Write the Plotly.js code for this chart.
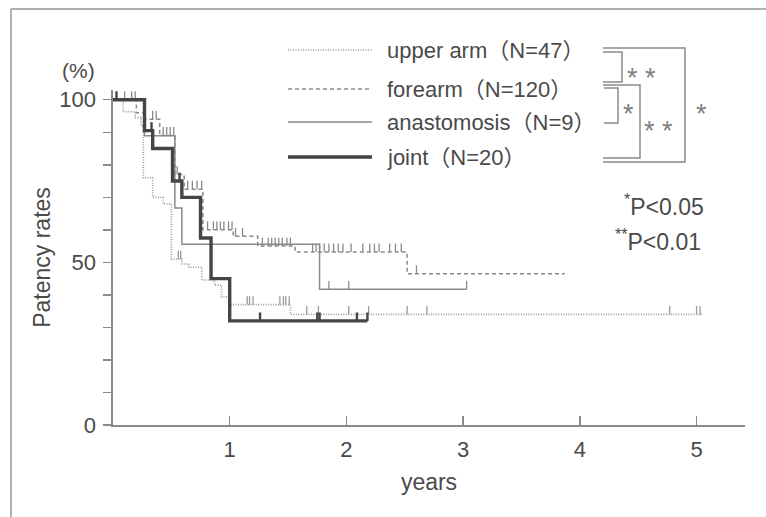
<!DOCTYPE html>
<html>
<head>
<meta charset="utf-8">
<script src="https://cdn.plot.ly/plotly-3.0.1.min.js"></script>
<style>html,body{margin:0;padding:0;background:#fff}#chart{width:766px;height:517px}</style>
</head>
<body>
<div id="chart"></div>
<script>
// ---- data (years, patency %) ----
const upperArmT = [0, 0.086, 0.19, 0.24, 0.26, 0.34, 0.43, 0.50, 0.59, 0.65, 0.76, 0.87, 0.93, 1.00, 1.52, 5.05];
const upperArmP = [100, 96.3, 94.5, 92, 76, 70, 68, 51, 49.5, 48.5, 44.6, 43, 39.4, 37, 34, 34];
const upperArmCens = [0.56, 0.58, 1.15, 1.17, 1.20, 1.43, 1.46, 1.48, 1.51, 1.66, 1.76, 2.02, 2.19, 2.52, 2.69, 4.77, 5.0, 5.03];

const forearmT = [0, 0.2, 0.27, 0.40, 0.53, 0.61, 0.77, 1.03, 1.24, 1.56, 2.52, 3.87];
const forearmP = [100, 96, 94, 89, 77, 72.5, 60, 58, 55, 53.2, 46.5, 46.5];
const forearmCens = [0.1, 0.16, 0.19, 0.34, 0.37, 0.43, 0.46, 0.49, 0.52, 0.55, 0.64, 0.68, 0.72, 0.76,
  0.81, 0.86, 0.89, 0.92, 0.95, 0.99, 1.02, 1.05, 1.11, 1.28, 1.33, 1.36, 1.39, 1.42, 1.45, 1.49, 1.52,
  1.71, 1.74, 1.77, 1.81, 1.85, 1.89, 1.93, 1.97, 2.04, 2.14, 2.20, 2.24, 2.28, 2.37, 2.42, 2.47, 2.60];

const anastT = [0, 0.27, 0.53, 0.59, 1.77, 3.03];
const anastP = [100, 88.9, 66.7, 55.6, 41.7, 41.7];
const anastCens = [1.85, 2.02, 3.03];

const jointT = [0, 0.27, 0.34, 0.51, 0.59, 0.75, 0.84, 1.00, 2.18];
const jointP = [100, 90.5, 85, 75, 70, 57.5, 45, 32, 32];
const jointCens = [0.03, 0.33, 0.57, 1.26, 1.75, 1.77, 2.09, 2.18];

const yTickVals = [0, 50, 100];
const yMinorStep = 10;
const xTickVals = [1,2,3,4,5];

const legendNames = ['upper arm（N=47）','forearm（N=120）','anastomosis（N=9）','joint（N=20）'];

// ---- helpers ----
const W = 766, H = 517, ML = 113, MR = 21, MT = 90, MB = 92;
const PW = W - ML - MR, PH = H - MT - MB;
const fx = px => (px - ML) / PW;
const fy = py => (H - MB - py) / PH;
const FONT = 'Liberation Sans, Arial, Noto Sans CJK JP, sans-serif';
const TXT = '#4a4a4a';
const AX = '#8a8a8a';

function levelAt(ts, ps, t) {
  let v = ps[0];
  for (let i = 0; i < ts.length; i++) if (ts[i] <= t) v = ps[i];
  return v;
}
function censTrace(ts, ps, cens, color, width) {
  const x = [], y = [];
  const h = 2.6;
  cens.forEach(c => { const v = levelAt(ts, ps, c); x.push(c, c, null); y.push(v, v + h, null); });
  return {x, y, type:'scatter', mode:'lines', line:{color, width}, hoverinfo:'skip', showlegend:false};
}

const styles = [
  {color:'#9a9a9a', width:1.6, dash:'1px,1.5px'},
  {color:'#8a8a8a', width:1.5, dash:'4px,3px'},
  {color:'#8a8a8a', width:1.5, dash:'solid'},
  {color:'#454545', width:3.4, dash:'solid'}
];
const series = [
  [upperArmT, upperArmP, upperArmCens],
  [forearmT, forearmP, forearmCens],
  [anastT, anastP, anastCens],
  [jointT, jointP, jointCens]
];

const traces = [];
series.forEach((s, i) => {
  const st = styles[i];
  traces.push({x:s[0], y:s[1], type:'scatter', mode:'lines', line:{shape:'hv', color:st.color, width:st.width, dash:st.dash}, name:legendNames[i], showlegend:false});
  traces.push(censTrace(s[0], s[1], s[2], st.color, i === 3 ? 2.4 : 1.3));
});

// ---- legend (drawn as shapes + annotations) ----
const legendY = [50, 89, 122, 157];
const shapes = [];
const annotations = [];
legendY.forEach((py, i) => {
  const st = styles[i];
  shapes.push({type:'line', xref:'paper', yref:'paper', x0:fx(288), x1:fx(372), y0:fy(py), y1:fy(py),
    line:{color:st.color, width:st.width, dash:st.dash}});
  annotations.push({xref:'paper', yref:'paper', x:fx(385), y:fy(py), xanchor:'left', yanchor:'middle',
    text:legendNames[i], showarrow:false, font:{family:FONT, size:22, color:TXT}});
});

// significance brackets
function bracket(x0, x1, y0, y1) {
  return {type:'path', xref:'paper', yref:'paper',
    path:`M ${fx(x0)} ${fy(y0)} L ${fx(x1)} ${fy(y0)} L ${fx(x1)} ${fy(y1)} L ${fx(x0)} ${fy(y1)}`,
    line:{color:'#8a8a8a', width:1.5}};
}
shapes.push(bracket(603, 685, 48, 162));
shapes.push(bracket(603, 622, 52, 82));
shapes.push(bracket(603, 640, 85, 158));
shapes.push(bracket(604, 618, 88, 123));

const stars = [['* *', 641, 71], ['*', 628, 107], ['* *', 658, 124], ['*', 701, 107]];
stars.forEach(s => annotations.push({xref:'paper', yref:'paper', x:fx(s[1]), y:fy(s[2]), xanchor:'center', yanchor:'middle',
  yshift:-7, text:s[0], showarrow:false, font:{family:FONT, size:27, color:'#808080'}}));

annotations.push({xref:'paper', yref:'paper', x:fx(706), y:fy(205), xanchor:'right', yanchor:'middle',
  text:'<sup>*</sup>P&lt;0.05', showarrow:false, font:{family:FONT, size:23, color:TXT}});
annotations.push({xref:'paper', yref:'paper', x:fx(703), y:fy(240), xanchor:'right', yanchor:'middle',
  text:'<sup>**</sup>P&lt;0.01', showarrow:false, font:{family:FONT, size:23, color:TXT}});
annotations.push({xref:'paper', yref:'paper', x:fx(78), y:fy(70), xanchor:'center', yanchor:'middle',
  text:'(%)', showarrow:false, font:{family:FONT, size:21, color:TXT}});

// picture frame (top and left edges)
shapes.push({type:'line', xref:'paper', yref:'paper', x0:fx(11), x1:fx(780), y0:fy(9), y1:fy(9), line:{color:'#b0b0b0', width:2}});
shapes.push({type:'line', xref:'paper', yref:'paper', x0:fx(11), x1:fx(11), y0:fy(9), y1:fy(530), line:{color:'#b0b0b0', width:2}});

const layout = {
  width:W, height:H,
  margin:{l:ML, r:MR, t:MT, b:MB, pad:0},
  paper_bgcolor:'#fff', plot_bgcolor:'#fff',
  showlegend:false,
  font:{family:FONT, color:TXT},
  xaxis:{range:[0, 5.415], showgrid:false, zeroline:false, showline:true, linecolor:AX, linewidth:1.6,
    ticks:'inside', ticklen:9, tickwidth:1.4, tickcolor:AX, tickvals:xTickVals, ticktext:xTickVals.map(String),
    ticklabelstandoff:4, tickfont:{family:FONT, size:22, color:TXT},
    title:{text:'years', font:{family:FONT, size:23, color:TXT}, standoff:13}, automargin:false, fixedrange:true},
  yaxis:{range:[0, 103], showgrid:false, zeroline:false, showline:true, linecolor:AX, linewidth:1.6,
    ticks:'outside', ticklen:8, tickwidth:1.4, tickcolor:AX, tickvals:yTickVals, ticktext:yTickVals.map(String),
    minor:{tick0:0, dtick:yMinorStep, ticks:'outside', ticklen:8, tickwidth:1.4, tickcolor:AX, showgrid:false},
    ticklabelstandoff:3, tickfont:{family:FONT, size:22, color:TXT},
    title:{text:'Patency rates', font:{family:FONT, size:23, color:TXT}, standoff:2}, automargin:false, fixedrange:true},
  shapes, annotations
};

Plotly.newPlot('chart', traces, layout, {staticPlot:true, displayModeBar:false});
</script>
</body>
</html>
